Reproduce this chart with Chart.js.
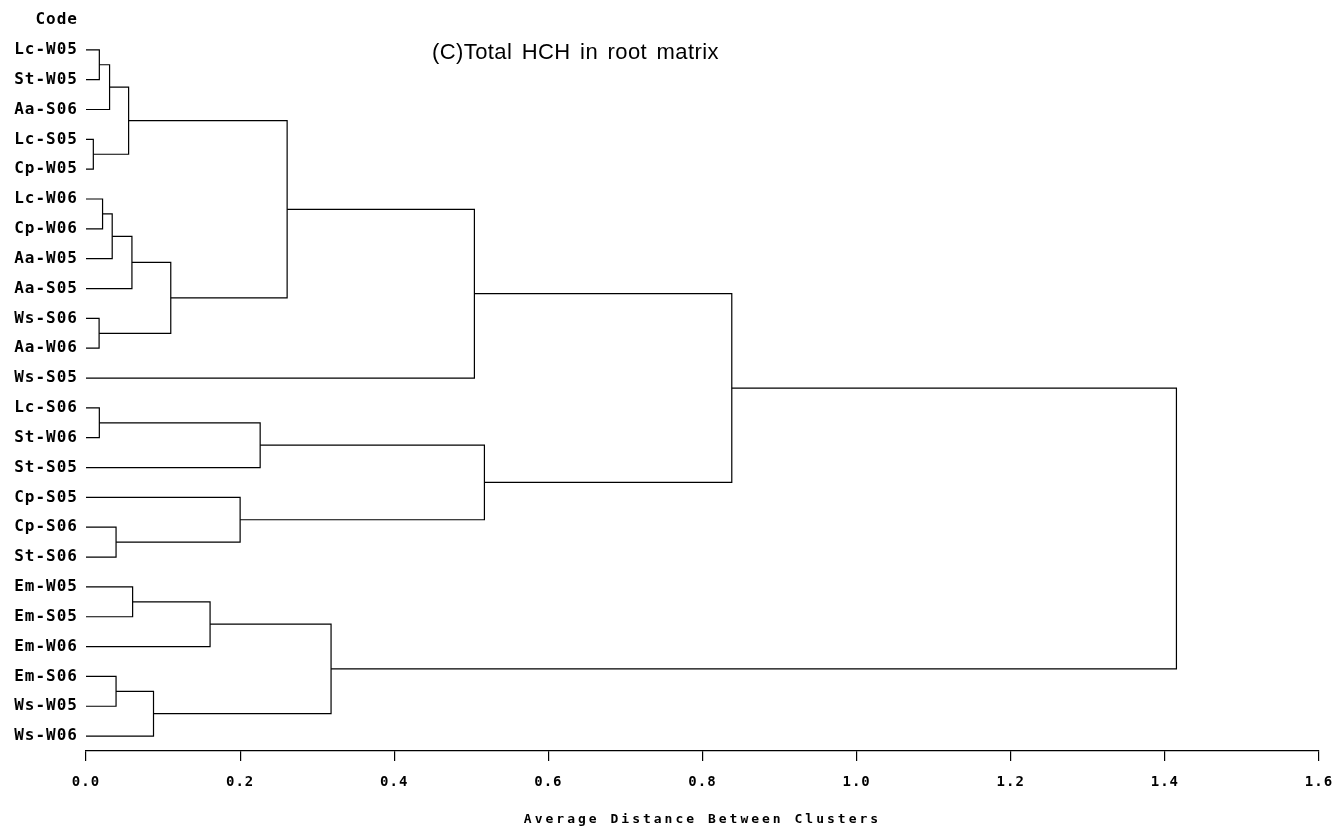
<!DOCTYPE html>
<html>
<head>
<meta charset="utf-8">
<script src="https://cdn.jsdelivr.net/npm/chart.js@4.4.1/dist/chart.umd.min.js"></script>
<style>
  html, body { margin: 0; padding: 0; background: #fff; }
  #wrap { width: 1336px; height: 826px; }
</style>
</head>
<body>
<div id="wrap"><canvas id="dendro"></canvas></div>
<script>
// leaf labels, top to bottom
var leaves = ['Lc-W05', 'St-W05', 'Aa-S06', 'Lc-S05', 'Cp-W05', 'Lc-W06', 'Cp-W06', 'Aa-W05',
  'Aa-S05', 'Ws-S06', 'Aa-W06', 'Ws-S05', 'Lc-S06', 'St-W06', 'St-S05', 'Cp-S05',
  'Cp-S06', 'St-S06', 'Em-W05', 'Em-S05', 'Em-W06', 'Em-S06', 'Ws-W05', 'Ws-W06'];

// merges: index < 24 is a leaf, index >= 24 is merge (index - 24)
var mergeA = [3, 9, 0, 12, 5, 26, 28, 16, 21, 29, 30, 18, 32, 34, 35, 15, 27, 33, 38, 41, 40, 43, 45];
var mergeB = [4, 10, 1, 13, 6, 2, 7, 17, 22, 24, 8, 19, 23, 25, 20, 31, 14, 37, 36, 11, 39, 44, 42];
var mergeHeight = [0.0095, 0.017, 0.0173, 0.0173, 0.0215, 0.0306, 0.034, 0.039, 0.039, 0.0553,
  0.0596, 0.0605, 0.0876, 0.110, 0.161, 0.200, 0.226, 0.261, 0.318, 0.504, 0.517, 0.838, 1.415];

var xTicks = [0, 0.2, 0.4, 0.6, 0.8, 1.0, 1.2, 1.4, 1.6];

var monoFont = '"DejaVu Sans Mono", "Liberation Mono", monospace';

// node positions (distance, row)
var nodeX = leaves.map(function () { return 0; });
var nodeY = leaves.map(function (_, i) { return i; });
var datasets = [];
mergeHeight.forEach(function (h, k) {
  var a = mergeA[k], b = mergeB[k];
  nodeX.push(h);
  nodeY.push((nodeY[a] + nodeY[b]) / 2);
  datasets.push({
    data: [
      { x: nodeX[a], y: nodeY[a] },
      { x: h, y: nodeY[a] },
      { x: h, y: nodeY[b] },
      { x: nodeX[b], y: nodeY[b] }
    ],
    showLine: true,
    borderColor: '#000',
    borderWidth: 1.2,
    pointRadius: 0,
    tension: 0,
    fill: false
  });
});

// wider letter spacing like the old bitmap font
var spacingPlugin = {
  id: 'spacing',
  beforeLayout: function (chart) { chart.ctx.letterSpacing = '1px'; },
  beforeDraw: function (chart) { chart.ctx.letterSpacing = '1px'; }
};

var titlePlugin = {
  id: 'plotTitle',
  afterDraw: function (chart) {
    var ctx = chart.ctx;
    var xs = chart.scales.x;
    ctx.save();
    ctx.fillStyle = '#000';
    ctx.textBaseline = 'alphabetic';

    ctx.font = '22px "Liberation Sans", Arial, sans-serif';
    ctx.letterSpacing = '0.4px';
    ctx.wordSpacing = '3px';
    ctx.textAlign = 'left';
    ctx.fillText('(C)Total HCH in root matrix', 432, 59);

    ctx.font = 'bold 13px ' + monoFont;
    ctx.letterSpacing = '3px';
    ctx.wordSpacing = '0px';
    ctx.textAlign = 'center';
    ctx.fillText('Average Distance Between Clusters', (xs.left + xs.right) / 2, 823);
    ctx.restore();
  }
};

var config = {
  type: 'scatter',
  data: { datasets: datasets },
  plugins: [spacingPlugin, titlePlugin],
  options: {
    responsive: true,
    maintainAspectRatio: false,
    animation: false,
    layout: { padding: { left: 0, right: 17, top: 20, bottom: 0 } },
    plugins: {
      legend: { display: false },
      tooltip: { enabled: false }
    },
    scales: {
      x: {
        type: 'linear',
        min: 0,
        max: 1.6,
        afterBuildTicks: function (scale) {
          scale.ticks = xTicks.map(function (v) { return { value: v }; });
        },
        afterFit: function (scale) {
          scale.height = 75;
          scale.paddingLeft = 0;
          scale.paddingRight = 0;
        },
        ticks: {
          color: '#000',
          padding: 13,
          font: { family: monoFont, size: 14, weight: 'bold' },
          callback: function (v) { return Number(v).toFixed(1); }
        },
        grid: { drawOnChartArea: false, drawTicks: true, tickLength: 10, color: '#000', lineWidth: 1.2 },
        border: { color: '#000', width: 1.2 }
      },
      y: {
        type: 'linear',
        reverse: true,
        min: -1,
        max: 23.5,
        afterBuildTicks: function (scale) {
          var t = [{ value: -1 }];
          leaves.forEach(function (_, i) { t.push({ value: i }); });
          scale.ticks = t;
        },
        afterFit: function (scale) {
          scale.width = 86;
          scale.paddingTop = 0;
          scale.paddingBottom = 0;
        },
        ticks: {
          autoSkip: false,
          color: '#000',
          padding: 8,
          font: { family: monoFont, size: 16, weight: 'bold' },
          callback: function (v) {
            if (v === -1) return 'Code';
            return leaves[v] || '';
          }
        },
        grid: { display: false, drawTicks: false },
        border: { display: false }
      }
    }
  }
};

var ctx = document.getElementById('dendro').getContext('2d');
new Chart(ctx, config);
</script>
</body>
</html>
